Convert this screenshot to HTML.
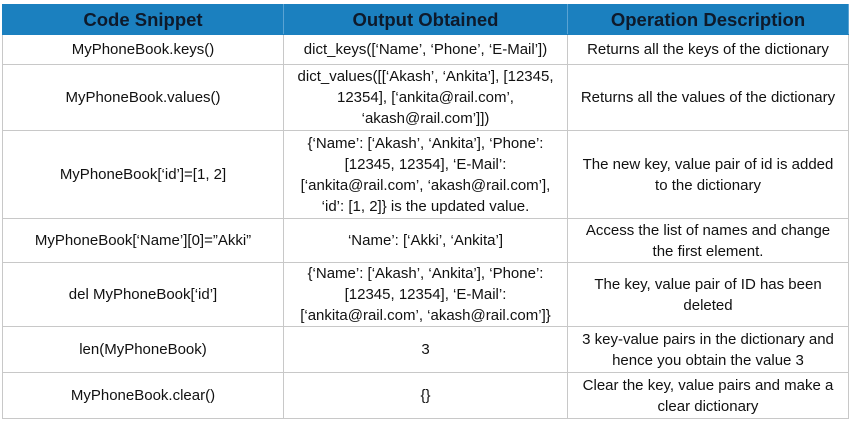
<!DOCTYPE html>
<html><head><meta charset="utf-8"><style>
body{margin:0;width:851px;height:427px;background:#fff;overflow:hidden}
table{position:absolute;left:2px;top:4px;border-collapse:collapse;table-layout:fixed;font-family:"Liberation Sans",sans-serif;font-size:15px;color:#111;}
td,th{border:1px solid #c8c8c8;text-align:center;vertical-align:middle;padding:0 1px;line-height:21px;white-space:nowrap;overflow:hidden}
th{background:#1b80bf;color:#0e1a2b;font-size:18.5px;font-weight:bold;border-color:#1b80bf;border-right-color:#5aa3d3}
</style></head><body>
<table>
<colgroup><col style="width:281px"><col style="width:284px"><col style="width:281px"></colgroup>
<tr style="height:30px"><th>Code Snippet</th><th>Output Obtained</th><th>Operation Description</th></tr>
<tr style="height:30px"><td>MyPhoneBook.keys()</td><td>dict_keys([‘Name’, ‘Phone’, ‘E-Mail’])</td><td>Returns all the keys of the dictionary</td></tr>
<tr style="height:66px"><td>MyPhoneBook.values()</td><td>dict_values([[‘Akash’, ‘Ankita’], [12345,<br>12354], [‘ankita@rail.com’,<br>‘akash@rail.com’]])</td><td>Returns all the values of the dictionary</td></tr>
<tr style="height:88px"><td>MyPhoneBook[‘id’]=[1, 2]</td><td>{‘Name’: [‘Akash’, ‘Ankita’], ‘Phone’:<br>[12345, 12354], ‘E-Mail’:<br>[‘ankita@rail.com’, ‘akash@rail.com’],<br>‘id’: [1, 2]} is the updated value.</td><td>The new key, value pair of id is added<br>to the dictionary</td></tr>
<tr style="height:44px"><td>MyPhoneBook[‘Name’][0]=”Akki”</td><td>‘Name’: [‘Akki’, ‘Ankita’]</td><td>Access the list of names and change<br>the first element.</td></tr>
<tr style="height:64px"><td>del MyPhoneBook[‘id’]</td><td>{‘Name’: [‘Akash’, ‘Ankita’], ‘Phone’:<br>[12345, 12354], ‘E-Mail’:<br>[‘ankita@rail.com’, ‘akash@rail.com’]}</td><td>The key, value pair of ID has been<br>deleted</td></tr>
<tr style="height:46px"><td>len(MyPhoneBook)</td><td>3</td><td>3 key-value pairs in the dictionary and<br>hence you obtain the value 3</td></tr>
<tr style="height:46px"><td>MyPhoneBook.clear()</td><td>{}</td><td>Clear the key, value pairs and make a<br>clear dictionary</td></tr>
</table>
</body></html>
